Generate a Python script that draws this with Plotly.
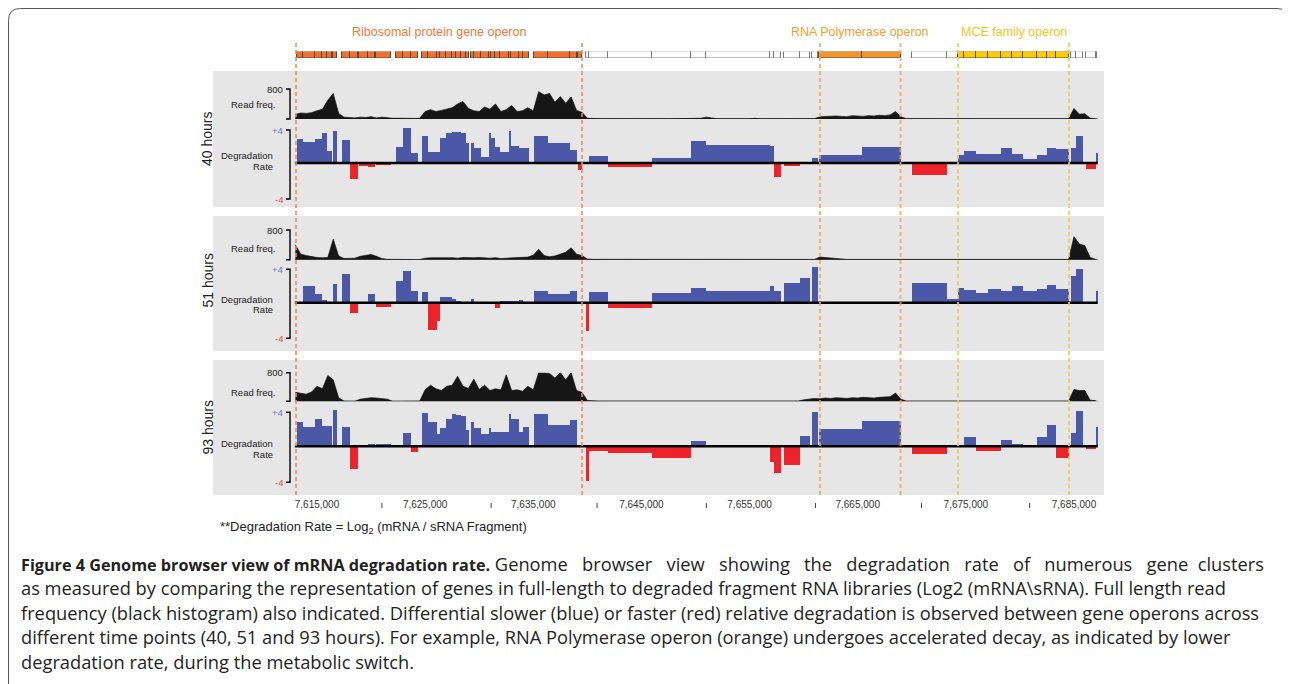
import plotly.graph_objects as go

# The page body has an 8px margin, so the figure is placed at (8, 8) in the window.
OFF = 8
W, H = 1282, 676
def X(px): return (px - OFF) / W
def Y(py): return 1 - (py - OFF) / H

# ---------------- data ----------------
gene_start = [7613.12, 7613.68, 7614.82, 7615.49, 7615.90, 7616.51, 7617.31, 7618.05, 7618.88, 7619.69,
              7620.43, 7622.31, 7622.93, 7623.69, 7624.68, 7625.26, 7626.07, 7626.37, 7626.93, 7627.51,
              7627.83, 7628.29, 7628.78, 7629.21, 7629.52, 7630.14, 7630.93, 7631.12, 7631.46, 7631.92,
              7632.78, 7632.91, 7633.71, 7634.08, 7635.07, 7636.33, 7638.40, 7639.16, 7639.85, 7640.15,
              7641.94, 7645.95, 7649.59, 7650.97, 7656.89, 7657.26, 7658.19, 7659.66, 7660.77, 7661.42,
              7665.40, 7670.02, 7673.26, 7674.28, 7674.83, 7675.94, 7677.08, 7678.25, 7679.27, 7680.29,
              7681.58, 7682.51, 7683.34, 7684.73, 7685.19, 7686.11, 7687.06]
gene_end = [7613.68, 7614.82, 7615.49, 7615.90, 7616.41, 7616.82, 7618.05, 7618.76, 7619.69, 7620.36,
            7621.84, 7622.93, 7623.69, 7624.34, 7625.26, 7626.07, 7626.37, 7626.93, 7627.51, 7627.83,
            7628.29, 7628.78, 7629.08, 7629.52, 7630.14, 7630.93, 7631.12, 7631.46, 7631.92, 7632.78,
            7632.91, 7633.71, 7634.08, 7634.60, 7636.33, 7638.40, 7639.07, 7639.48, 7640.15, 7641.94,
            7645.95, 7649.59, 7650.97, 7656.89, 7657.26, 7657.91, 7659.66, 7660.59, 7661.36, 7665.40,
            7669.00, 7673.26, 7674.28, 7674.83, 7675.94, 7677.08, 7678.25, 7679.27, 7680.29, 7681.58,
            7682.51, 7683.34, 7684.54, 7685.19, 7685.83, 7687.06, 7687.16]

deg_40h = [2.94, 2.57, 2.9, 3.59, 1.43, 3.88, 2.78, -1.96, -0.41, -0.53,
           -0.24, 1.92, 4.24, 1.22, 3.3, 1.35, 1.35, 2.98, 3.59, 3.71,
           3.71, 3.6, 2.45, 2.37, 1.84, 0.73, 3.59, 2.98, 1.96, 1.35,
           3.88, 2.04, 1.84, 1.76, 3.3, 2.45, 1.55, -0.9, None, 0.82,
           -0.6, 0.57, 2.65, 2.16, 2.0, -1.71, -0.37, None, 0.57, 0.94,
           1.92, -1.47, None, 0.94, 1.43, 1.06, 1.06, 1.76, 1.06, 0.45,
           0.94, 1.8, 1.67, 1.8, 3.27, -0.73, 1.22]
deg_51h = [None, 1.92, 1.04, 0.33, -0.1, 2.2, 3.44, -1.32, None, 1.04,
           -0.6, 2.6, 3.8, 1.4, 1.2, -3.36, -2.2, 0.6, 0.68, 0.44,
           0.2, -0.1, -0.05, 0.44, -0.2, -0.1, None, None, -0.68, 0.1,
           0.1, 0.1, 0.25, None, 1.4, 1.04, 1.3, -0.05, -3.48, 1.25,
           -0.63, 1.14, 1.73, 1.37, 1.96, 1.37, 2.3, 2.9, 4.3, -0.12,
           -0.12, 2.3, 0.43, 1.73, 1.49, 1.14, 1.6, 1.37, 1.92, 1.37,
           1.6, 2.08, 1.6, 3.1, 3.96, -0.2, 1.37]
deg_93h = [2.7, 2.23, 3.15, 2.35, 2.35, 4.1, 2.23, -2.7, None, 0.19,
           0.27, None, 1.54, -0.73, 3.85, 2.7, 1.35, 2.1, 3.15, 3.65,
           3.54, 3.4, 1.8, 2.77, 2.1, 1.42, 2.1, 1.58, 1.58, 1.58,
           3.7, 3.08, 1.65, 2.23, 3.73, 2.46, 2.96, None, -4.0, -0.6,
           -0.8, -1.38, 0.54, None, -1.85, -3.1, -2.2, 1.1, 3.9, 1.92,
           2.9, -0.92, None, None, 1.0, -0.58, -0.58, 0.65, 0.19, None,
           1.0, 2.38, -1.38, 1.46, 4.0, -0.35, 2.15]

read_start_kb = 7613.0
read_step_kb = 0.5
read_40h = [120, 160, 150, 170, 220, 260, 500, 680, 150, 50,
            40, 30, 50, 40, 60, 30, 50, 30, 20, 20,
            15, 15, 15, 20, 200, 250, 200, 230, 260, 300,
            400, 470, 280, 220, 200, 320, 260, 400, 200, 250,
            360, 200, 220, 300, 220, 730, 640, 680, 450, 600,
            420, 590, 230, 180, 20, 10, 10, 10, 5,
            5, 5, 10, 5, 5, 10, 5, 5, 5, 10, 5, 5, 5, 5, 10, 5, 20,
            50, 20,
            5, 5, 10, 5, 5, 5, 5,
            20,
            5, 5, 5, 10, 5, 5, 5, 10, 5, 5, 10,
            60, 70, 60, 80, 70, 60, 90, 80, 70, 90, 80, 100, 90, 110, 200, 60,
            5, 10, 5, 5, 10, 5, 5, 5, 10, 5, 5, 5, 10, 5, 5, 5, 10, 5, 5, 5, 10, 5, 5, 5, 10, 5, 5, 5, 10, 5, 5,
            280, 130, 140, 20, 10]
read_51h = [400, 150, 110, 80, 60, 50, 60, 550, 100, 30,
            25, 40, 90, 120, 140, 90, 30, 10, 5, 5,
            5, 5, 5, 5, 40, 50, 45, 60, 50, 55,
            40, 60, 45, 50, 60, 45, 40, 55, 30, 40,
            45, 50, 60, 70, 120, 280, 110, 80, 100, 160,
            200, 320, 150, 110, 20, 10, 10, 10, 10,
            8, 8, 8, 10, 8, 8, 8, 10, 8, 8, 8, 10, 8, 8, 8, 10, 8, 8, 8,
            10, 8, 8, 8, 10, 8, 8, 8, 10, 8, 8, 8, 10, 8, 8, 8, 10, 8, 8,
            70, 55, 45, 30, 20,
            8, 8, 10, 8, 8, 8, 10, 8, 8, 8, 10, 8, 8, 8, 10, 8, 8, 8, 10, 8, 8,
            8, 10, 8, 8, 8, 10, 8, 8, 8, 10, 8, 8, 8, 10, 8, 8, 8, 10, 8, 8, 8,
            620, 420, 380, 60, 10]
read_93h = [250, 220, 200, 260, 420, 350, 720, 600, 100, 5,
            5, 0, 60, 90, 100, 90, 80, 60, 0, 5,
            5, 0, 5, 5, 320, 450, 350, 300, 420, 450,
            700, 420, 360, 620, 330, 450, 300, 350, 320, 740,
            300, 320, 280, 420, 320, 800, 800, 780, 650, 800,
            600, 800, 300, 250, 20, 5, 5, 5, 5,
            5, 5, 5, 5, 5, 5, 5, 5, 5, 5, 5, 5, 5, 5, 5, 5, 5, 5,
            5, 5, 5, 5, 5, 5, 0, 5, 5, 5, 0, 5, 5, 0, 5, 5, 5,
            40, 70, 80, 70, 90, 80, 100, 90, 80, 100, 90, 110, 100, 90, 110, 120, 130, 230, 60,
            5, 5, 5, 5, 5, 5, 5, 5, 5, 5, 5, 5, 5, 5, 5, 5, 5, 5, 5, 5, 5, 5, 5, 5, 5, 5, 5, 5, 5, 5, 5,
            330, 300, 300, 30, 20]

operon_names = ["Ribosomal protein gene operon", "RNA Polymerase operon", "MCE family operon"]
operon_start = [7613.06, 7661.51, 7674.28]
operon_end = [7639.51, 7668.96, 7684.54]

tick_kb = [7615, 7625, 7635, 7645, 7655, 7665, 7675, 7685]
tick_text = ["7,615,000", "7,625,000", "7,635,000", "7,645,000",
             "7,655,000", "7,665,000", "7,675,000", "7,685,000"]
minor_tick_kb = [7621.0, 7631.1, 7640.9, 7651.0, 7661.1, 7670.9, 7680.9]
time_labels = ["40 hours", "51 hours", "93 hours"]

# ---------------- styles ----------------
BLUE = "#4A58A7"
RED = "#EE2329"
GRAY_PANEL = "#E6E6E6"
op_label_col = ["#F07A3A", "#F5A030", "#F5C518"]
op_line_col = ["rgba(240,140,80,0.8)", "rgba(242,165,80,0.8)", "rgba(244,200,80,0.85)"]
op_box_col = ["#F36F2B", "#F4942A", "#FFCC00"]
FONT = "Liberation Sans, Arial, sans-serif"
NARROW = "Liberation Sans Narrow, Liberation Sans, Arial, sans-serif"

x_range = [7605.383, 7687.868]
data_lo, data_hi = 7612.95, 7687.2

panels = [
    dict(top=71, bot=207, rb=119, r800=89, z=163, u=8.17, bt=130, bb=199, hy=139, ry=104.3, dy=155.7, ty=166.7),
    dict(top=216, bot=351, rb=259.7, r800=230, z=302.7, u=8.33, bt=269.3, bb=338.3, hy=280.5, ry=248.3, dy=299.3, ty=309.3),
    dict(top=360, bot=495, rb=401.3, r800=372.7, z=446.3, u=8.67, bt=412.3, bb=482.3, hy=427.5, ry=392.3, dy=443.7, ty=454.7),
]
deg_series = [deg_40h, deg_51h, deg_93h]
read_series = [read_40h, read_51h, read_93h]

fig = go.Figure()
shapes = []
annotations = []

layout_axes = {}
layout_axes["xaxis"] = dict(domain=[X(213), X(1105)], range=x_range, anchor="free", position=Y(497),
                            showgrid=False, zeroline=False, showline=False, ticks="",
                            tickvals=tick_kb, ticktext=tick_text,
                            tickfont=dict(family=NARROW, size=10, color="#333333"))
layout_axes["yaxis"] = dict(domain=[Y(58), Y(51.5)], range=[0, 1], visible=False, anchor="x", fixedrange=True)

def op_index(mid):
    for k in range(len(operon_names)):
        if operon_start[k] <= mid <= operon_end[k]:
            return k
    return None

g_x, g_w, g_fill, g_line = [], [], [], []
for s, e in zip(gene_start, gene_end):
    mid = (s + e) / 2
    k = op_index(mid)
    g_x.append(mid)
    g_w.append(e - s)
    g_fill.append(op_box_col[k] if k is not None else "white")
    g_line.append("#4a4a4a" if k is not None else "#777777")
fig.add_trace(go.Bar(x=g_x, y=[1] * len(g_x), base=0, width=g_w, xaxis="x", yaxis="y",
                     marker=dict(color=g_fill, line=dict(color=g_line, width=1)), hoverinfo="skip"))

for p, pn in enumerate(panels):
    ra = "y%d" % (2 + 2 * p)
    da = "y%d" % (3 + 2 * p)
    layout_axes["yaxis%d" % (2 + 2 * p)] = dict(domain=[Y(pn["rb"]), Y(pn["r800"])], range=[0, 800],
                                               visible=False, anchor="x")
    layout_axes["yaxis%d" % (3 + 2 * p)] = dict(domain=[Y(pn["z"] + 4.6 * pn["u"]), Y(pn["z"] - 4.6 * pn["u"])],
                                               range=[-4.6, 4.6], visible=False, anchor="x")
    shapes.append(dict(type="rect", xref="paper", yref="paper", x0=X(213), x1=X(1104), y0=Y(pn["bot"]),
                       y1=Y(pn["top"]), fillcolor=GRAY_PANEL, line=dict(width=0), layer="below"))
    vals = read_series[p]
    xs = [read_start_kb + read_step_kb * i for i in range(len(vals))]
    fig.add_trace(go.Scatter(x=xs, y=vals, xaxis="x", yaxis=ra, mode="lines", fill="tozeroy",
                             line=dict(color="#111111", width=0.7), fillcolor="#161616", hoverinfo="skip"))
    shapes.append(dict(type="line", xref="x", yref=ra, x0=data_lo, x1=data_hi, y0=0, y1=0,
                       line=dict(color="#111111", width=1)))
    bx, bw, by, bc = [], [], [], []
    for s, e, v in zip(gene_start, gene_end, deg_series[p]):
        if v is None:
            continue
        bx.append((s + e) / 2)
        bw.append(e - s)
        by.append(v)
        bc.append(BLUE if v > 0 else RED)
    fig.add_trace(go.Bar(x=bx, y=by, base=0, width=bw, xaxis="x", yaxis=da,
                         marker=dict(color=bc, line=dict(width=0)), hoverinfo="skip"))
    shapes.append(dict(type="line", xref="x", yref=da, x0=data_lo, x1=data_hi, y0=0, y1=0,
                       line=dict(color="black", width=2.6)))
    for (t, b) in [(pn["r800"], pn["rb"]), (pn["bt"], pn["bb"])]:
        shapes.append(dict(type="path", xref="paper", yref="paper",
                           path="M %f %f L %f %f L %f %f L %f %f" % (X(286), Y(t), X(290), Y(t), X(290), Y(b), X(286), Y(b)),
                           line=dict(color="black", width=1.4)))
    def lab(txt, xr, yy, col="#222222", size=9.5):
        annotations.append(dict(text=txt, x=X(xr), y=Y(yy), xref="paper", yref="paper", xanchor="right",
                                yanchor="middle", showarrow=False, font=dict(family=FONT, size=size, color=col)))
    lab("800", 285, pn["r800"])
    lab("Read freq.", 277, pn["ry"])
    lab("+4", 285, pn["bt"], "#6A78BC")
    lab("-4", 285, pn["bb"], "#E8474C")
    lab("Degradation", 275, pn["dy"])
    lab("Rate", 275, pn["ty"])
    annotations.append(dict(text=time_labels[p], x=X(207), y=Y(pn["hy"]), xref="paper", yref="paper",
                            xanchor="center", yanchor="middle", textangle=-90, showarrow=False,
                            font=dict(family=FONT, size=14, color="#222222")))

for k in range(len(operon_names)):
    for xv in (operon_start[k], operon_end[k]):
        shapes.append(dict(type="line", xref="x", yref="paper", x0=xv, x1=xv, y0=Y(495), y1=Y(42),
                           line=dict(color=op_line_col[k], width=2, dash="4px,3px")))
    annotations.append(dict(text=operon_names[k], x=(operon_start[k] + operon_end[k]) / 2, y=Y(32.5),
                            xref="x", yref="paper", xanchor="center", yanchor="middle", showarrow=False,
                            font=dict(family=FONT, size=12.5, color=op_label_col[k])))

for xv in minor_tick_kb:
    shapes.append(dict(type="line", xref="x", yref="paper", x0=xv, x1=xv, y0=Y(508), y1=Y(503),
                       line=dict(color="#444444", width=1)))

annotations.append(dict(text="**Degradation Rate = Log<sub>2</sub> (mRNA / sRNA Fragment)", x=X(218), y=Y(527),
                        xref="paper", yref="paper", xanchor="left", yanchor="middle", showarrow=False,
                        font=dict(family=NARROW, size=13, color="#222222")))

NB = "\u00a0"
caption_title = "Figure 4 Genome browser view of mRNA degradation rate."
line1_words = ["Genome", "browser", "view", "showing", "the", "degradation", "rate", "of", "numerous", "gene", "clusters"]
# the reference caption is justified: the first line's word gaps are stretched
gaps = [" " + (NB if i == 9 else NB * 2) for i in range(len(line1_words) - 1)]
line1 = " "
for i, w in enumerate(line1_words):
    line1 += w + (gaps[i] if i < len(gaps) else "")
caption = [
    line1,
    "as measured by comparing the representation of genes in full-length to degraded fragment RNA libraries (Log2 (mRNA\\sRNA). Full length read",
    "frequency (black histogram) also indicated. Differential slower (blue) or faster (red) relative degradation is observed between gene operons across",
    "different time points (40, 51 and 93 hours). For example, RNA Polymerase operon (orange) undergoes accelerated decay, as indicated by lower",
    "degradation rate, during the metabolic switch.",
]
for i, line in enumerate(caption):
    txt = line
    if i == 0:
        txt = '<span style="font-size:16.2px"><b>%s</b></span>%s' % (caption_title, line)
    annotations.append(dict(text=txt, x=X(19), y=Y(563 + 24.5 * i), xref="paper", yref="paper",
                            xanchor="left", yanchor="middle", showarrow=False,
                            font=dict(family="Open Sans, sans-serif", size=18.3, color="#231F20")))

r = 12
shapes.append(dict(type="path", xref="paper", yref="paper",
                   path="M %f %f L %f %f Q %f %f %f %f L %f %f Q %f %f %f %f L %f %f" % (
                       X(8.5), Y(700), X(8.5), Y(8.5 + r), X(8.5), Y(8.5), X(8.5 + r), Y(8.5),
                       X(1289 - r), Y(8.5), X(1289), Y(8.5), X(1289), Y(8.5 + r), X(1289), Y(700)),
                   line=dict(color="#555555", width=1)))

fig.update_layout(width=W, height=H, margin=dict(l=0, r=0, t=0, b=0), showlegend=False,
                  paper_bgcolor="white", plot_bgcolor="rgba(0,0,0,0)", barmode="overlay",
                  bargap=0, shapes=shapes, annotations=annotations, font=dict(family=FONT),
                  **layout_axes)
fig.write_html("out.html")
